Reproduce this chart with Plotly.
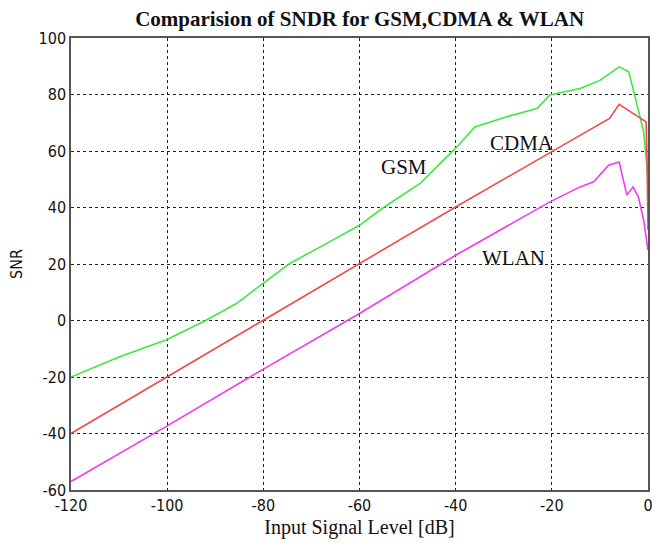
import plotly.graph_objects as go

# Input signal level (dB) and SNR readings for each standard
gsm_x = [-120, -110, -100, -92, -85.6, -80, -74.5, -66.8, -60, -55, -47.4, -43.2,
         -40, -36, -29.4, -23.1, -20.4, -14.1, -10, -6, -4, -2, -0.9, 0]
gsm_y = [-20, -12.9, -6.7, 0, 6, 13.2, 20.2, 27.3, 33.7, 40, 48.5, 55.6,
         61, 68.5, 72.1, 75, 79.8, 82.1, 85, 89.8, 88, 74.4, 66.8, 50.5]

cdma_x = [-120, -100, -80, -60, -40, -20, -14, -8, -6, -1.3, -0.4, -0.2, 0]
cdma_y = [-40, -20, 0, 20.2, 40.2, 59.8, 65.6, 71.5, 76.5, 71.5, 70.3, 56.7, 32]

wlan_x = [-120, -100, -82.8, -60, -40, -20.4, -14.1, -11.3, -8.2, -6, -4.4, -3.1,
          -2, -0.9, 0]
wlan_y = [-57, -37.3, -20, 2.5, 23.1, 42, 47.3, 49.1, 55, 56.1, 44.4, 47.3,
          43.8, 35.5, 24.9]

x_ticks = [-120, -100, -80, -60, -40, -20, 0]
x_labels = ["-120", "-100", "-80", "-60", "-40", "-20", "0"]
y_ticks = [-60, -40, -20, 0, 20, 40, 60, 80, 100]
y_labels = ["-60", "-40", "-20", "0", "20", "40", "60", "80", "100"]

series_labels = ["GSM", "CDMA", "WLAN"]
label_x = [-50.7, -26.2, -28.0]
label_y = [54.4, 62.7, 22.3]

serif = "Liberation Serif, Times New Roman, serif"
sans = "DejaVu Sans Condensed, Liberation Sans Narrow, DejaVu Sans, sans-serif"

fig = go.Figure()
for xs, ys, col, name in [(gsm_x, gsm_y, "#3ee83e", "GSM"),
                          (cdma_x, cdma_y, "#f24a4a", "CDMA"),
                          (wlan_x, wlan_y, "#f03cf0", "WLAN")]:
    fig.add_trace(go.Scatter(x=xs, y=ys, mode="lines", name=name,
                             line=dict(color=col, width=1.6)))

for txt, ax_, ay_ in zip(series_labels, label_x, label_y):
    fig.add_annotation(x=ax_, y=ay_, text=txt, showarrow=False,
                       font=dict(family=serif, size=21, color="#111111"))

axis_common = dict(
    showline=True, linecolor="#555555", linewidth=1.5, mirror=True,
    showgrid=True, gridcolor="#222222", gridwidth=1, griddash="3px,3px",
    zeroline=False, ticks="", tickfont=dict(family=sans, size=16, color="#111111"),
)

fig.update_xaxes(range=[-120, 0], tickvals=x_ticks, ticktext=x_labels,
                 title=dict(text="Input Signal Level [dB]",
                            font=dict(family=serif, size=20, color="#111111"),
                            standoff=6),
                 **axis_common)
fig.update_yaxes(range=[-60, 100], tickvals=y_ticks, ticktext=y_labels,
                 title=dict(text="SNR", font=dict(family=sans, size=16, color="#111111"),
                            standoff=12),
                 **axis_common)

fig.update_layout(
    width=666, height=547,
    margin=dict(l=71, r=18, t=38, b=57),
    paper_bgcolor="white", plot_bgcolor="white",
    showlegend=False,
    title=dict(text="<b>Comparision of SNDR for GSM,CDMA & WLAN</b>",
               font=dict(family=serif, size=21, color="#111111"),
               x=0.54, xanchor="center", y=0.966, yanchor="middle"),
)

fig.write_html("out.html")
